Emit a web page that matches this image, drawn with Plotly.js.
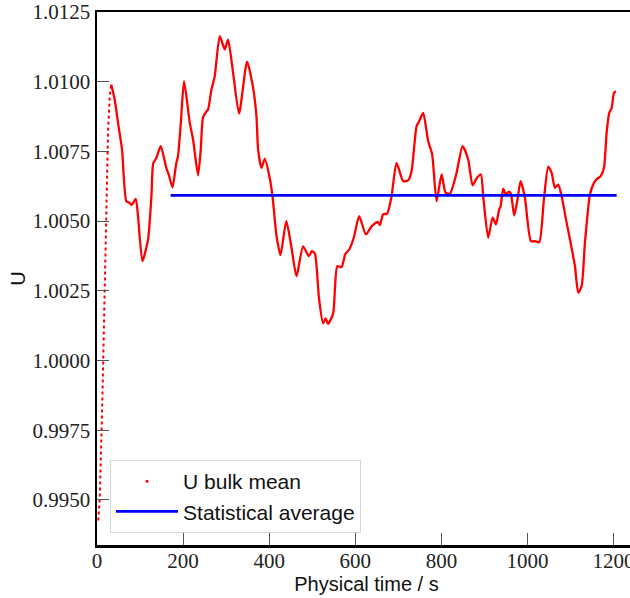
<!DOCTYPE html>
<html>
<head>
<meta charset="utf-8">
<script src="https://cdn.plot.ly/plotly-3.0.1.min.js"></script>
<style>
  html, body { margin: 0; padding: 0; background: #fff; overflow: hidden; }
  #chart { width: 630px; height: 598px; overflow: hidden; }
</style>
</head>
<body>
<div id="chart"></div>
<script>
// Start-up ramp of the bulk mean velocity (sparse samples, drawn dotted)
const rampTime = [2.8, 6.3, 12.5, 15.6, 20.2, 25.6, 29.5, 33.0];
const rampU = [0.99426, 0.99501, 0.99860, 1.00075, 1.00495, 1.00818, 1.00947, 1.00990];

// Bulk mean velocity history
const time = [33.0, 41.1, 48.8, 58.1, 68.3, 74.4, 80.6, 89.9, 95.3, 105.5, 118.5, 126.4, 130.6, 138.0, 148.0,
  161.3, 166.6, 175.2, 184.1, 188.2, 194.5, 202.2, 215.4, 223.1, 234.7, 241.0, 246.3, 254.2, 258.0, 265.9,
  273.5, 285.2, 296.8, 304.4, 316.1, 330.0, 348.6, 362.5, 370.4, 374.2, 382.1, 389.7, 401.4, 407.6, 416.9,
  426.2, 439.7, 451.8, 463.4, 478.7, 492.0, 499.0, 505.9, 515.9, 525.2, 531.0, 536.8, 548.5, 558.2, 568.0,
  576.8, 586.1, 596.6, 608.9, 624.5, 637.7, 652.3, 657.0, 664.7, 674.0, 684.2, 695.8, 711.1, 722.8, 730.7,
  742.3, 748.3, 757.6, 769.2, 778.5, 788.8, 800.4, 809.7, 819.7, 835.2, 849.2, 862.2, 872.4, 881.7, 891.7,
  897.1, 908.7, 918.9, 926.6, 934.2, 937.5, 943.5, 949.8, 955.2, 960.7, 969.1, 977.0, 984.0, 994.0, 1007.9,
  1017.2, 1027.2, 1038.1, 1048.1, 1056.0, 1063.7, 1071.4, 1079.3, 1090.9, 1098.6, 1110.2, 1117.9, 1125.7,
  1133.4, 1145.0, 1154.3, 1162.0, 1169.9, 1177.6, 1183.8, 1189.9, 1195.5, 1200.8, 1205.4];
const uBulk = [1.00990, 1.00936, 1.00853, 1.00757, 1.00570, 1.00567, 1.00558, 1.00580, 1.00518, 1.00356,
  1.00434, 1.00589, 1.00707, 1.00727, 1.00769, 1.00689, 1.00667, 1.00621, 1.00707, 1.00733, 1.00847, 1.01002,
  1.00853, 1.00793, 1.00664, 1.00757, 1.00872, 1.00893, 1.00900, 1.00972, 1.01020, 1.01163, 1.01116, 1.01151,
  1.01032, 1.00886, 1.01072, 1.00979, 1.00876, 1.00757, 1.00691, 1.00723, 1.00653, 1.00590, 1.00448, 1.00378,
  1.00500, 1.00405, 1.00302, 1.00409, 1.00374, 1.00392, 1.00384, 1.00219, 1.00133, 1.00151, 1.00131, 1.00169,
  1.00338, 1.00335, 1.00382, 1.00399, 1.00441, 1.00518, 1.00452, 1.00481, 1.00497, 1.00486, 1.00524, 1.00527,
  1.00589, 1.00709, 1.00643, 1.00646, 1.00679, 1.00840, 1.00858, 1.00888, 1.00787, 1.00739, 1.00571, 1.00667,
  1.00602, 1.00598, 1.00673, 1.00769, 1.00721, 1.00628, 1.00653, 1.00667, 1.00589, 1.00440, 1.00512, 1.00488,
  1.00542, 1.00553, 1.00616, 1.00595, 1.00604, 1.00601, 1.00520, 1.00580, 1.00643, 1.00584, 1.00428, 1.00428,
  1.00424, 1.00578, 1.00695, 1.00673, 1.00619, 1.00631, 1.00589, 1.00494, 1.00434, 1.00338, 1.00243, 1.00267,
  1.00422, 1.00595, 1.00637, 1.00652, 1.00661, 1.00691, 1.00817, 1.00888, 1.00906, 1.00960, 1.00966];

// Statistical average over the averaging window
const avgTime = [171, 1207];
const avgU = [1.00592, 1.00592];

// Axis ticks
const xTicks = [0, 200, 400, 600, 800, 1000, 1200];
const yTicks = [0.9950, 0.9975, 1.0000, 1.0025, 1.0050, 1.0075, 1.0100, 1.0125];
const yTickText = ["0.9950", "0.9975", "1.0000", "1.0025", "1.0050", "1.0075", "1.0100", "1.0125"];

const seriesNames = ["U bulk mean", "Statistical average"];

const serifFont = "Liberation Serif, DejaVu Serif, serif";
const sansFont = "Liberation Sans, DejaVu Sans, sans-serif";

const traces = [
  { x: rampTime, y: rampU, mode: "lines", line: { color: "#ff0000", width: 2, dash: "dot" },
    showlegend: false, hoverinfo: "skip" },
  { x: time, y: uBulk, mode: "lines", line: { color: "#ff0000", width: 2.3, shape: "spline", smoothing: 0.6 },
    showlegend: false },
  { x: [null], y: [null], mode: "markers", name: seriesNames[0],
    marker: { color: "#ff0000", size: 3 } },
  { x: avgTime, y: avgU, mode: "lines", name: seriesNames[1],
    line: { color: "#0000ff", width: 2.7 } }
];

const layout = {
  width: 636, height: 598,
  margin: { l: 97, r: 0, t: 12, b: 53 },
  paper_bgcolor: "#ffffff", plot_bgcolor: "#ffffff",
  showlegend: true,
  legend: {
    x: 0.0242, y: 0.0225, xanchor: "left", yanchor: "bottom",
    bgcolor: "rgba(255,255,255,0.85)", bordercolor: "#d6d6d6", borderwidth: 1,
    font: { family: sansFont, size: 21, color: "#111" },
    itemwidth: 62
  },
  xaxis: {
    range: [0, 1252], tickvals: xTicks, ticks: "inside", ticklen: 12, tickwidth: 1, tickcolor: "#555",
    showline: true, linecolor: "#000", linewidth: 2.5, mirror: true, showgrid: false, zeroline: false,
    ticklabeloverflow: "allow", ticklabelstandoff: -5,
    tickfont: { family: serifFont, size: 21, color: "#222" },
    title: { text: "Physical time / s", font: { family: sansFont, size: 20, color: "#111" }, standoff: 6 }
  },
  yaxis: {
    range: [0.99338, 1.0125], tickvals: yTicks, ticktext: yTickText, ticks: "inside", ticklen: 12,
    tickwidth: 1, tickcolor: "#555",
    showline: true, linecolor: "#000", linewidth: 2.5, showgrid: false, zeroline: false,
    tickfont: { family: serifFont, size: 21, color: "#222" },
    title: { text: "U", font: { family: sansFont, size: 20, color: "#111" }, standoff: 2 }
  }
};

Plotly.newPlot("chart", traces, layout, { displayModeBar: false, staticPlot: true });
</script>
</body>
</html>
